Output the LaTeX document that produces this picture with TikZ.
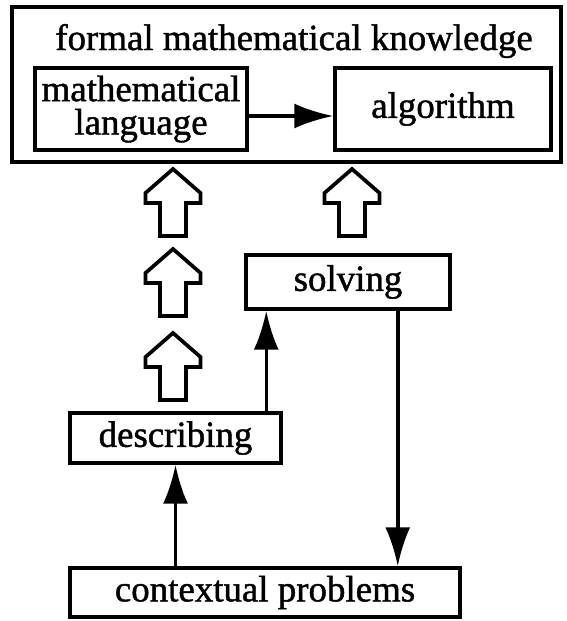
\documentclass[tikz,border=0pt]{standalone}
\usepackage{fontspec}
\setmainfont{Liberation Serif}
\usetikzlibrary{positioning,arrows.meta}

\tikzset{
  box/.style={draw,line width=2pt,inner sep=2pt,align=center},
  fatarrow/.pic={
    \draw[line width=2.1pt,line join=miter]
      (0,0) -- (27.5,24) -- (27.5,34) -- (13,34) -- (13,67) -- (-13,67)
      -- (-13,34) -- (-27.5,34) -- (-27.5,24) -- cycle;
  }
}

\begin{document}
\begin{tikzpicture}[x=0.02cm,y=-0.02cm,>={Latex[length=0.78cm,width=0.5cm]},
    font=\fontsize{21}{19}\selectfont\addfontfeatures{FakeBold=1.2}]
  \useasboundingbox (0,0) rectangle (566,621);
  % formal level
  \node[box,line width=2.2pt,minimum width=10.98cm,minimum height=3.1cm] (formal) at (286.5,84.5) {};
  \node (title) at (294,41) {formal mathematical knowledge};
  \node[box,minimum width=4.24cm,minimum height=1.64cm] (lang) at (141,109) {mathematical\\language};
  \node[box,minimum width=4.32cm,minimum height=1.64cm] (algo) at (443,109) {algorithm};
  \draw[->,line width=2pt] ([yshift=-0.14cm]lang.east) -- ([yshift=-0.14cm]algo.west);
  % hollow arrows
  \foreach \y in {169,249,333}
    \pic at (173,\y) {fatarrow};
  \pic at (352,169) {fatarrow};
  % activities
  \node[box,minimum width=4.08cm,minimum height=1.08cm] (solve) at (348,282) {solving};
  \node[box,minimum width=4.22cm,minimum height=1.0cm] (desc) at (175.5,438) {describing};
  \node[box,minimum width=7.8cm,minimum height=0.98cm] (ctx) at (265,592.5) {contextual problems};
  \draw[->,line width=2pt] (desc.south |- ctx.north) -- (desc.south);
  \draw[->,line width=2pt] ([xshift=0.44cm]solve.south west |- desc.north) -- ([xshift=0.44cm]solve.south west);
  \draw[->,line width=2pt] ([xshift=-1.08cm]solve.south east) -- ([xshift=-1.08cm]solve.south east |- ctx.north);
\end{tikzpicture}
\end{document}
